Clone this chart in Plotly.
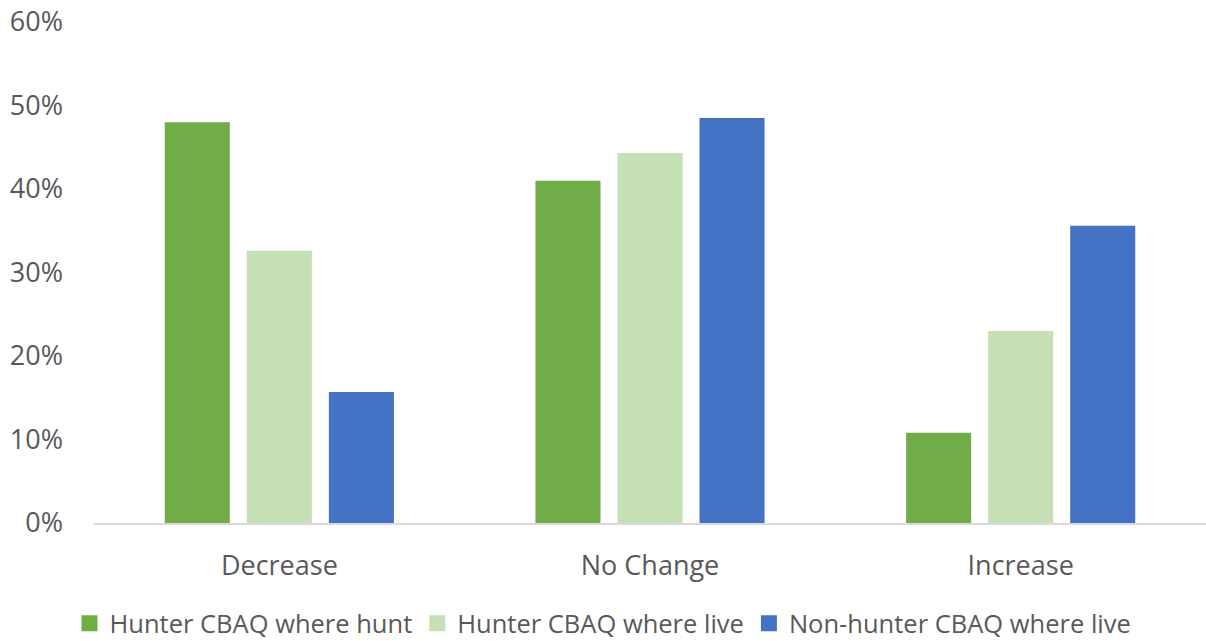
import plotly.graph_objects as go

categories = ["Decrease", "No Change", "Increase"]
series_names = ["Hunter CBAQ where hunt", "Hunter CBAQ where live", "Non-hunter CBAQ where live"]
hunt_where_hunt = [0.480, 0.410, 0.108]
hunt_where_live = [0.326, 0.443, 0.230]
nonhunt_where_live = [0.157, 0.485, 0.356]
colors = ["#70AD47", "#C5E0B4", "#4472C4"]
y_ticks = [0, 0.1, 0.2, 0.3, 0.4, 0.5, 0.6]

fig = go.Figure()
for name, vals, c in zip(series_names, [hunt_where_hunt, hunt_where_live, nonhunt_where_live], colors):
    fig.add_trace(go.Bar(x=categories, y=vals, name=name, showlegend=False,
                         marker=dict(color=c, line=dict(width=0))))
# legend entries with larger square swatches
for name, c in zip(series_names, colors):
    fig.add_trace(go.Scatter(x=[None], y=[None], mode="markers", name=name,
                             marker=dict(symbol="square", size=18, color=c)))

font_fam = "Open Sans, Segoe UI, sans-serif"
fig.update_layout(
    width=1206, height=641,
    margin=dict(l=94, r=0, t=22, b=118),
    paper_bgcolor="white", plot_bgcolor="white",
    barmode="group", bargap=0.336, bargroupgap=0.207,
    font=dict(family=font_fam, size=27, color="#595959"),
    showlegend=True,
    legend=dict(orientation="h", x=0.5, xanchor="center", xref="container",
                y=0.027, yanchor="middle", yref="container",
                font=dict(size=25.5, color="#595959"), itemwidth=30, traceorder="normal",
                tracegroupgap=0),
    xaxis=dict(showline=True, linecolor="#D9D9D9", linewidth=1.5, ticks="",
               tickfont=dict(size=27, color="#595959"), ticklabelstandoff=18),
    yaxis=dict(range=[0, 0.6], tickvals=y_ticks, tickformat=".0%", showgrid=False,
               zeroline=False, showline=False, ticks="",
               tickfont=dict(size=27, color="#595959"), ticklabelstandoff=30),
)
fig.write_html("out.html")
